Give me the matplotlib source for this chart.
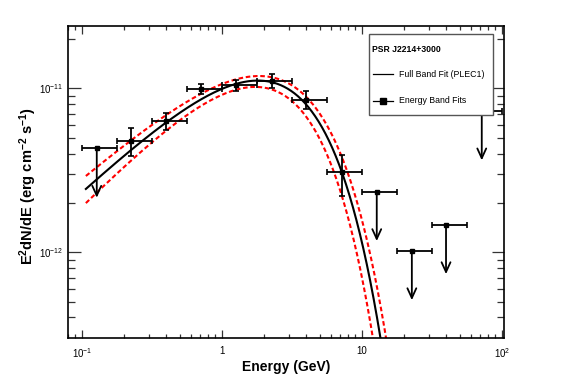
import numpy as np
import matplotlib
matplotlib.use("Agg")
import matplotlib.pyplot as plt
from matplotlib.patches import Rectangle
from matplotlib.lines import Line2D

plt.rcParams['font.family'] = ['Liberation Sans', 'DejaVu Sans']
plt.rcParams['mathtext.fontset'] = 'custom'
plt.rcParams['mathtext.rm'] = 'Liberation Sans'
plt.rcParams['mathtext.it'] = 'Liberation Sans:italic'
plt.rcParams['mathtext.bf'] = 'Liberation Sans:bold'

# ---- data: energy band fits (detections) ----
band_e = [0.225, 0.40, 0.714, 1.26, 2.27, 4.0, 7.2]
band_elo = [0.178, 0.316, 0.562, 1.0, 1.78, 3.16, 5.62]
band_ehi = [0.316, 0.562, 1.0, 1.78, 3.16, 5.62, 10.0]
band_flux = [4.77e-12, 6.35e-12, 9.95e-12, 1.047e-11, 1.11e-11, 8.49e-12, 3.10e-12]
band_flo = [3.86e-12, 5.57e-12, 9.23e-12, 9.66e-12, 1.00e-11, 7.45e-12, 2.21e-12]
band_fhi = [5.70e-12, 7.05e-12, 1.07e-11, 1.12e-11, 1.22e-11, 9.66e-12, 3.92e-12]

# ---- data: upper limits ----
ul_e = [0.128, 12.8, 22.8, 40.0, 72.0]
ul_elo = [0.10, 10.0, 17.8, 31.6, 56.2]
ul_ehi = [0.178, 17.8, 31.6, 56.2, 100.0]
ul_flux = [4.3e-12, 2.34e-12, 1.02e-12, 1.47e-12, 7.27e-12]

# ---- full band fit (PLEC1) parameters: E^2 dN/dE = K E^a exp(-E/Ec) ----
fit_logK, fit_a, fit_ec = -10.811, 0.806, 2.25
up_logK, up_a, up_ec = -10.801, 0.737, 2.504
lo_logK, lo_a, lo_ec = -10.819, 0.8836, 1.963
fit_emin, fit_emax = 0.107, 30.0

x_ticks = [0.1, 1, 10, 100]
x_ticklabels = [r'$10^{-1}$', '1', '10', r'$10^{2}$']
y_ticks = [1e-12, 1e-11]
y_ticklabels = [r'$10^{-12}$', r'$10^{-11}$']

W, H = 567, 384
fig = plt.figure(figsize=(W / 100, H / 100), dpi=100)
ax = fig.add_axes([67.5 / W, 1 - 337.7 / H, (504 - 67.5) / W, (337.7 - 26) / H])
ax.set_xscale('log')
ax.set_yscale('log')
ax.set_xlim(0.0791, 103.8)
ax.set_ylim(3.01e-13, 2.40e-11)


def plec(e, logK, a, ec):
    e = np.asarray(e)
    return 10 ** logK * e ** a * np.exp(-e / ec)


egrid = np.logspace(np.log10(fit_emin), np.log10(fit_emax), 400)
ax.plot(egrid, plec(egrid, up_logK, up_a, up_ec), color='#ff0000', lw=1.5,
        ls=(0, (2.2, 1.3)), zorder=2)
ax.plot(egrid, plec(egrid, lo_logK, lo_a, lo_ec), color='#ff0000', lw=1.5,
        ls=(0, (2.2, 1.3)), zorder=2)
ax.plot(egrid, plec(egrid, fit_logK, fit_a, fit_ec), color='k', lw=1.5, zorder=3)

# detections
be = np.array(band_e)
bf = np.array(band_flux)
xerr = [be - np.array(band_elo), np.array(band_ehi) - be]
yerr = [bf - np.array(band_flo), np.array(band_fhi) - bf]
ax.errorbar(be, bf, xerr=xerr, yerr=yerr, fmt='s', ms=3, color='k', mfc='k',
            mec='k', elinewidth=1.3, capsize=2.2, capthick=1.2, zorder=4)

# upper limits
ue = np.array(ul_e)
uf = np.array(ul_flux)
uxerr = [ue - np.array(ul_elo), np.array(ul_ehi) - ue]
ax.errorbar(ue, uf, xerr=uxerr, fmt='s', ms=3, color='k', mfc='k', mec='k',
            elinewidth=1.3, capsize=2.2, capthick=1.2, zorder=4)
for e, f in zip(ul_e, ul_flux):
    ax.annotate('', xy=(e, f * 0.5), xytext=(e, f),
                arrowprops=dict(arrowstyle='->,head_length=0.7,head_width=0.32',
                                lw=1.3, color='k', shrinkA=0, shrinkB=0),
                zorder=4)

# axes styling
for s in ax.spines.values():
    s.set_linewidth(1.2)
ax.set_xticks(x_ticks)
ax.set_xticklabels(x_ticklabels)
ax.set_yticks(y_ticks)
ax.set_yticklabels(y_ticklabels)
ax.tick_params(which='both', direction='in', top=True, right=True,
               labelsize=7, width=0.9, color='#333333')
ax.tick_params(axis='x', which='major', length=6, pad=6)
ax.tick_params(axis='x', which='minor', length=3.2)
ax.tick_params(axis='y', which='major', length=9, pad=3)
ax.tick_params(axis='y', which='minor', length=4.8)
ax.yaxis.set_minor_formatter(matplotlib.ticker.NullFormatter())
ax.xaxis.set_minor_formatter(matplotlib.ticker.NullFormatter())

fig.text(286 / W, 1 - 367 / H, 'Energy (GeV)', ha='center', va='center',
         fontsize=10, fontweight='bold')
fig.text(28.5 / W, 1 - 186.5 / H, r'$\mathbf{E^{2}dN/dE\ (erg\ cm^{-2}\ s^{-1})}$',
         ha='center', va='center', rotation=90, fontsize=10.5)

# legend box (drawn manually, above data)
lx0, ly0, lx1, ly1 = 369, 34, 493, 114.5
fig.patches.append(Rectangle((lx0 / W, 1 - ly1 / H), (lx1 - lx0) / W, (ly1 - ly0) / H,
                             transform=fig.transFigure, facecolor='white',
                             edgecolor='#555555', lw=1.0, zorder=10))
fig.text(371.5 / W, 1 - 49 / H, 'PSR J2214+3000', fontsize=6.2, fontweight='bold',
         ha='left', va='center', zorder=11)
fig.lines.append(Line2D([372.7 / W, 392.7 / W], [1 - 74.3 / H, 1 - 74.3 / H],
                        transform=fig.transFigure, color='k', lw=0.9, zorder=11))
fig.text(399 / W, 1 - 74.3 / H, 'Full Band Fit (PLEC1)', fontsize=6.3,
         ha='left', va='center', zorder=11)
fig.lines.append(Line2D([372.7 / W, 392.7 / W], [1 - 100.7 / H, 1 - 100.7 / H],
                        transform=fig.transFigure, color='k', lw=0.9, zorder=11))
fig.lines.append(Line2D([383 / W], [1 - 100.7 / H], transform=fig.transFigure,
                        marker='s', ms=4, color='k', zorder=12))
fig.text(399 / W, 1 - 100.7 / H, 'Energy Band Fits', fontsize=6.3,
         ha='left', va='center', zorder=11)

fig.savefig('out.png', dpi=100)
